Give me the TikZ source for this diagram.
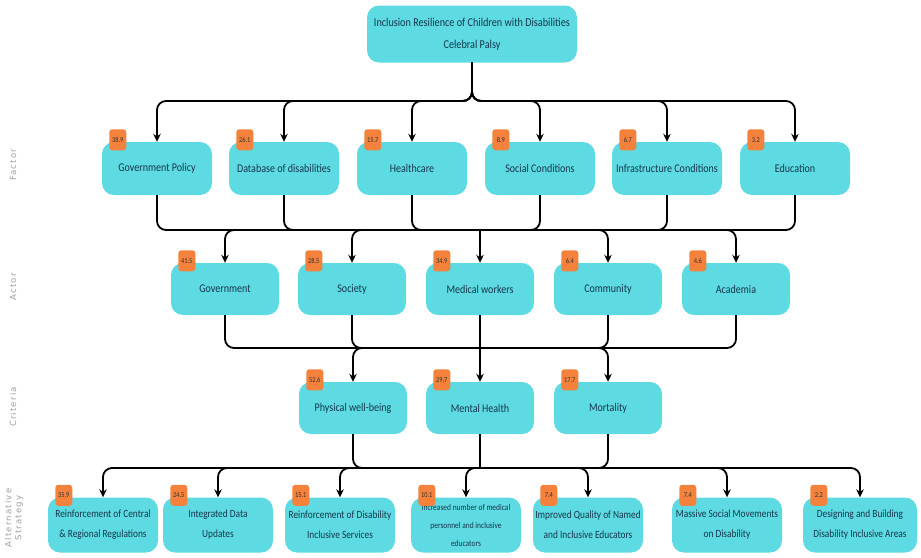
\documentclass[tikz,border=0pt]{standalone}
\usepackage{fontspec}
\setmainfont{Carlito}[FakeStretch=0.85]
\newfontfamily\lblfont{DejaVu Sans}[LetterSpace=14]
\usetikzlibrary{arrows.meta}
\definecolor{boxc}{RGB}{94,218,226}
\definecolor{badgec}{RGB}{244,130,60}
\definecolor{txtc}{RGB}{22,56,76}
\tikzset{
 box/.style={draw=none, fill=boxc, rounded corners=12pt, minimum width=110pt, minimum height=53pt, align=center, text=txtc, font=\fontsize{11.8}{14}\selectfont, inner sep=1pt},
 altbox/.style={box, minimum height=55pt, font=\fontsize{11}{20}\selectfont},
 badge/.style={fill=badgec, rounded corners=3pt, minimum width=17pt, minimum height=21pt, inner sep=0pt, font=\fontsize{7.5}{8}\selectfont, text=black!80},
 conn/.style={draw=black, line width=1.8pt, rounded corners=9pt},
 arr/.style={conn, -{Stealth[length=8pt,width=7.5pt]}},
 side/.style={rotate=90, text=black!38, font=\lblfont\fontsize{8.5}{10}\selectfont, align=center},
}
\begin{document}
\begin{tikzpicture}[x=1pt,y=-1pt]
\useasboundingbox (0,0) rectangle (921,557);
% nodes
\node[box, minimum width=210pt, minimum height=57pt, font=\fontsize{12}{22}\selectfont] (top) at (472,34) {Inclusion Resilience of Children with Disabilities\\Celebral Palsy};
\node[box] (f1) at (157,168.5) {Government Policy};
\node[box] (f2) at (284,168.5) {Database of disabilities};
\node[box] (f3) at (412,168.5) {Healthcare};
\node[box] (f4) at (540,168.5) {Social Conditions};
\node[box] (f5) at (667,168.5) {Infrastructure Conditions};
\node[box] (f6) at (795,168.5) {Education};
\node[box, minimum width=108pt, minimum height=52pt] (a1) at (225,289) {Government};
\node[box, minimum width=108pt, minimum height=52pt] (a2) at (352,289) {Society};
\node[box, minimum width=108pt, minimum height=52pt] (a3) at (480,289) {Medical workers};
\node[box, minimum width=108pt, minimum height=52pt] (a4) at (608,289) {Community};
\node[box, minimum width=108pt, minimum height=52pt] (a5) at (736,289) {Academia};
\node[box, minimum width=108pt, minimum height=52pt] (c1) at (353,408) {Physical well-being};
\node[box, minimum width=108pt, minimum height=52pt] (c2) at (480,408) {Mental Health};
\node[box, minimum width=108pt, minimum height=52pt] (c3) at (608,408) {Mortality};
\node[altbox] (s1) at (103,525) {Reinforcement of Central\\\& Regional Regulations};
\node[altbox] (s2) at (218,525) {Integrated Data\\Updates};
\node[altbox] (s3) at (340,525) {Reinforcement of Disability\\Inclusive Services};
\node[altbox, font=\fontsize{8.8}{18}\selectfont] (s4) at (466,525) {Increased number of medical\\personnel and inclusive\\educators};
\node[altbox] (s5) at (588,525) {Improved Quality of Named\\and Inclusive Educators};
\node[altbox] (s6) at (727,525) {Massive Social Movements\\on Disability};
\node[altbox, minimum width=114pt] (s7) at (860,525) {Designing and Building\\Disability Inclusive Areas};
% junctions
\coordinate (b0) at (472,101);
\coordinate (b1) at (480,230);
\coordinate (b2) at (480,348);
\coordinate (b3) at (480,468);
% connectors
\foreach \n in {f1,f2,f3,f4,f5,f6} \draw[arr] (top.south) -- (b0) -| (\n.north);
\foreach \n in {f1,f2,f3,f4,f5,f6} \draw[conn] (\n.south) |- (b1);
\foreach \n in {a1,a2,a4,a5} \draw[arr] (b1) -| (\n.north);
\draw[arr] (b1) -- (a3.north);
\foreach \n in {a1,a2,a4,a5} \draw[conn] (\n.south) |- (b2);
\draw[conn] (a3.south) -- (b2);
\foreach \n in {c1,c3} \draw[arr] (b2) -| (\n.north);
\draw[arr] (b2) -- (c2.north);
\foreach \n in {c1,c3} \draw[conn] (\n.south) |- (b3);
\draw[conn] (c2.south) -- (b3);
\foreach \n in {s1,s2,s3,s4,s5,s6,s7} \draw[arr] (b3) -| (\n.north);
% badges
\foreach \n/\v in {f1/38.9,f2/26.1,f3/15.7,f4/8.9,f5/6.7,f6/3.2,a1/41.5,a2/28.5,a3/34.9,a4/6.4,a5/4.6,c1/52.6,c2/29.7,c3/17.7,s1/35.9,s2/24.5,s3/15.1,s4/10.1,s5/7.4,s6/7.4,s7/2.2}
  \node[badge] (\n b) at ([shift={(16,-2)}]\n.north west) {\v};
% side labels
\node[side] (lf) at (13,165) {Factor};
\node[side] (la) at (13,287) {Actor};
\node[side] (lc) at (13,407) {Criteria};
\node[side] (ls) at (14,518) {Alternative\\Strategy};
\end{tikzpicture}
\end{document}
